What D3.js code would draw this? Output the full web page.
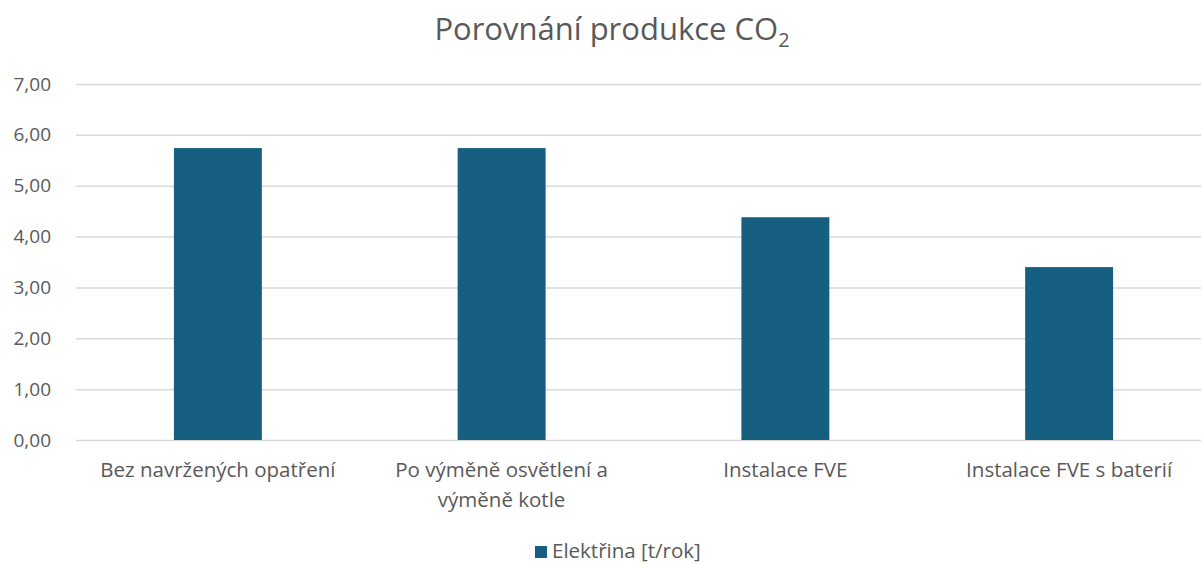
<!DOCTYPE html>
<html>
<head>
<meta charset="utf-8">
<script src="https://cdn.jsdelivr.net/npm/d3@7"></script>
<style>
	body { margin: 0; background: #fff; }
	svg text { font-family: "Open Sans", sans-serif; fill: #595959; }
</style>
</head>
<body>
<svg id="chart" width="1201" height="565"></svg>
<script>
var categories = [
	["Bez navržených opatření"],
	["Po výměně osvětlení a", "výměně kotle"],
	["Instalace FVE"],
	["Instalace FVE s baterií"]
];
var values = [5.74, 5.74, 4.38, 3.40];
var yTicks = [0, 1, 2, 3, 4, 5, 6, 7];
var seriesName = "Elektřina [t/rok]";

var svg = d3.select("#chart"),
	plotLeft = 76,
	plotRight = 1211,
	plotTop = 84,
	plotBottom = 440,
	barColor = "#175f80";

var xscale = d3.scaleBand()
	.domain(d3.range(categories.length))
	.range([plotLeft, plotRight])
	.padding(0);

var yscale = d3.scaleLinear()
	.domain([0, 7])
	.range([plotBottom, plotTop]);

// title
var title = svg.append("text")
	.attr("x", 612)
	.attr("y", 40)
	.attr("text-anchor", "middle")
	.style("font-size", "31px");
title.append("tspan").text("Porovnání produkce CO");
title.append("tspan").attr("dy", 7).style("font-size", "20px").text("2");

// gridlines + y labels
var yaxis = d3.axisLeft(yscale)
	.tickValues(yTicks)
	.tickSize(-(plotRight - plotLeft))
	.tickPadding(25)
	.tickFormat(function (d) { return d3.format(".2f")(d).replace(".", ","); });

var g = svg.append("g")
	.attr("transform", "translate(" + plotLeft + ",0)")
	.call(yaxis);
g.select(".domain").remove();
g.selectAll(".tick line")
	.attr("stroke", "#d9d9d9")
	.attr("stroke-width", 1.5);
g.selectAll(".tick text")
	.style("font-size", "19px")
	.attr("fill", "#595959");

// bars
var bw = xscale.bandwidth() * 0.31;
svg.append("g").selectAll("rect")
	.data(values)
	.enter().append("rect")
	.attr("x", function (d, i) { return xscale(i) + xscale.bandwidth() / 2 - bw / 2; })
	.attr("y", function (d) { return yscale(d); })
	.attr("width", bw)
	.attr("height", function (d) { return yscale(0) - yscale(d); })
	.attr("fill", barColor);

// category labels
svg.append("g").selectAll("text")
	.data(categories)
	.enter().append("text")
	.attr("text-anchor", "middle")
	.attr("x", function (d, i) { return xscale(i) + xscale.bandwidth() / 2; })
	.attr("y", 477)
	.style("font-size", "20.5px")
	.each(function (lines) {
		var t = d3.select(this);
		lines.forEach(function (l, j) {
			t.append("tspan")
				.attr("x", t.attr("x"))
				.attr("dy", j ? 30 : 0)
				.text(l);
		});
	});

// legend
var leg = svg.append("g").attr("transform", "translate(535,546)");
leg.append("rect").attr("width", 12).attr("height", 12).attr("fill", barColor);
leg.append("text")
	.attr("x", 17)
	.attr("y", 12)
	.style("font-size", "20.5px")
	.text(seriesName);
</script>
</body>
</html>
